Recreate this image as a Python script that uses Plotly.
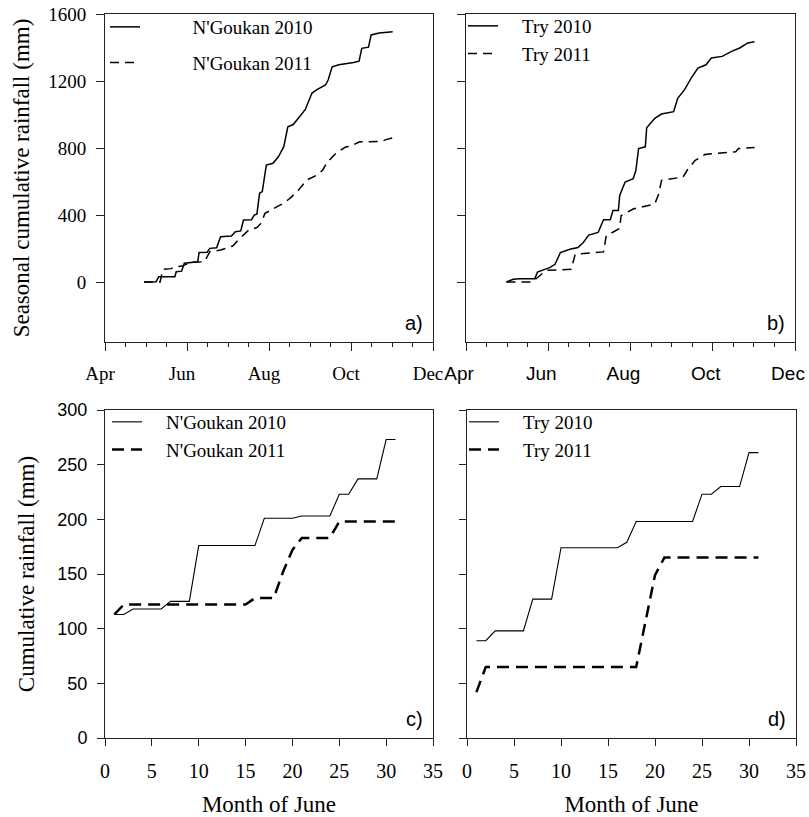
import plotly.graph_objects as go

# ---------------- DATA ----------------
# Seasonal cumulative rainfall (mm); dates as month-day (plotted on a common season axis)
ngoukan_2010_dates = ["04-30", "05-09", "05-11", "05-23", "05-24", "05-28", "05-30", "06-09", "06-10",
                      "06-16", "06-18", "06-23", "06-26", "07-04", "07-07", "07-11", "07-13", "07-19",
                      "07-21", "07-23", "07-25", "07-27", "07-30", "08-04", "08-08", "08-12", "08-15",
                      "08-19", "08-23", "08-28", "09-02", "09-06", "09-12", "09-14", "09-17", "09-22",
                      "10-03", "10-07", "10-09", "10-14", "10-16", "10-22", "11-01"]
ngoukan_2010_mm = [0, 2, 32, 32, 62, 65, 112, 121, 177,
                   178, 201, 205, 271, 275, 300, 305, 370, 372,
                   400, 405, 530, 540, 698, 709, 748, 808, 927,
                   940, 979, 1030, 1128, 1150, 1176, 1206, 1285, 1297,
                   1310, 1318, 1395, 1402, 1475, 1486, 1494]

ngoukan_2011_dates = ["04-30", "05-12", "05-14", "05-20", "05-24", "05-28", "06-05", "06-14", "06-18",
                      "06-26", "07-05", "07-09", "07-17", "07-23", "07-26", "07-29", "08-07", "08-12",
                      "08-18", "08-23", "08-29", "09-06", "09-10", "09-13", "09-20", "09-27", "10-01",
                      "10-07", "10-24", "10-27", "11-01"]
ngoukan_2011_mm = [0, 0, 75, 80, 92, 95, 118, 121, 181,
                   191, 215, 250, 311, 325, 350, 410, 450, 470,
                   510, 549, 609, 639, 669, 711, 770, 806, 812,
                   836, 840, 850, 860]

try_2010_dates = ["05-01", "05-06", "05-11", "05-22", "05-24", "05-29", "06-02", "06-06", "06-10",
                  "06-17", "06-23", "06-27", "07-01", "07-08", "07-12", "07-17", "07-19", "07-23",
                  "07-24", "07-28", "08-03", "08-05", "08-07", "08-12", "08-13", "08-19", "08-24",
                  "09-02", "09-05", "09-10", "09-15", "09-20", "09-26", "09-30", "10-08", "10-15",
                  "10-21", "10-27", "11-01"]
try_2010_mm = [0, 16, 20, 20, 60, 76, 86, 106, 176,
               196, 206, 236, 280, 296, 372, 372, 427, 427,
               517, 597, 617, 667, 797, 807, 921, 977, 1003,
               1017, 1097, 1147, 1217, 1277, 1297, 1337, 1347, 1377,
               1397, 1427, 1434]

try_2011_dates = ["05-01", "05-20", "05-30", "06-01", "06-18", "06-21", "07-12", "07-14", "07-24",
                  "07-25", "08-03", "08-19", "08-22", "08-24", "09-09", "09-12", "09-18", "09-23",
                  "09-25", "10-01", "10-18", "10-20", "11-01"]
try_2011_mm = [0, 0, 66, 70, 76, 166, 180, 276, 320,
               396, 436, 466, 527, 607, 627, 667, 727, 747,
               761, 767, 777, 797, 803]

# Daily cumulative rainfall during June (mm)
june_days = [1, 2, 3, 4, 5, 6, 7, 8, 9, 10, 11, 12, 13, 14, 15, 16,
             17, 18, 19, 20, 21, 22, 23, 24, 25, 26, 27, 28, 29, 30, 31]
ngoukan_june_2010 = [113, 113, 118, 118, 118, 118, 125, 125, 125, 176, 176, 176, 176, 176, 176, 176,
                     201, 201, 201, 201, 203, 203, 203, 203, 223, 223, 237, 237, 237, 273, 273]
ngoukan_june_2011 = [113, 122, 122, 122, 122, 122, 122, 122, 122, 122, 122, 122, 122, 122, 122, 128,
                     128, 128, 152, 172, 183, 183, 183, 183, 198, 198, 198, 198, 198, 198, 198]
try_june_2010 = [89, 89, 98, 98, 98, 98, 127, 127, 127, 174, 174, 174, 174, 174, 174, 174,
                 179, 198, 198, 198, 198, 198, 198, 198, 223, 223, 230, 230, 230, 261, 261]
try_june_2011 = [42, 65, 65, 65, 65, 65, 65, 65, 65, 65, 65, 65, 65, 65, 65, 65,
                 65, 65, 107, 149, 165, 165, 165, 165, 165, 165, 165, 165, 165, 165, 165]

season_ticks_year = "2010"
panel_labels = ["a)", "b)", "c)", "d)"]

# ---------------- STYLE ----------------
SERIF = "Liberation Serif, Times New Roman, serif"
SANS = "Liberation Sans, Arial, sans-serif"
AX = "#222222"
NB = "\u00a0"


def season(md):
    return [f"{season_ticks_year}-{d}" for d in md]


fig = go.Figure()

# Panel a
fig.add_trace(go.Scatter(x=season(ngoukan_2010_dates), y=ngoukan_2010_mm, mode="lines",
                         name=NB * 10 + "N'Goukan 2010", legend="legend", legendgroup="a1",
                         line=dict(color="black", width=1.5), xaxis="x", yaxis="y"))
fig.add_trace(go.Scatter(x=season(ngoukan_2011_dates), y=ngoukan_2011_mm, mode="lines",
                         name=NB * 10 + "N'Goukan 2011", legend="legend", legendgroup="a2",
                         line=dict(color="black", width=1.5, dash="9px,6px"), xaxis="x", yaxis="y"))
# Panel b
fig.add_trace(go.Scatter(x=season(try_2010_dates), y=try_2010_mm, mode="lines",
                         name=NB * 4 + "Try 2010", legend="legend2",
                         line=dict(color="black", width=1.5), xaxis="x2", yaxis="y2"))
fig.add_trace(go.Scatter(x=season(try_2011_dates), y=try_2011_mm, mode="lines",
                         name=NB * 4 + "Try 2011", legend="legend2",
                         line=dict(color="black", width=1.5, dash="9px,6px"), xaxis="x2", yaxis="y2"))
# Panel c
fig.add_trace(go.Scatter(x=june_days, y=ngoukan_june_2010, mode="lines",
                         name=NB * 4 + "N'Goukan 2010", legend="legend3",
                         line=dict(color="black", width=1.1), xaxis="x3", yaxis="y3"))
fig.add_trace(go.Scatter(x=june_days, y=ngoukan_june_2011, mode="lines",
                         name=NB * 4 + "N'Goukan 2011", legend="legend3",
                         line=dict(color="black", width=2.5, dash="12px,7px"), xaxis="x3", yaxis="y3"))
# Panel d
fig.add_trace(go.Scatter(x=june_days, y=try_june_2010, mode="lines",
                         name=NB * 4 + "Try 2010", legend="legend4",
                         line=dict(color="black", width=1.1), xaxis="x4", yaxis="y4"))
fig.add_trace(go.Scatter(x=june_days, y=try_june_2011, mode="lines",
                         name=NB * 4 + "Try 2011", legend="legend4",
                         line=dict(color="black", width=2.5, dash="12px,7px"), xaxis="x4", yaxis="y4"))

W, H = 809, 817


def px_x(p):
    return p / W


def px_y(p):
    return 1 - p / H


dom_top = [px_y(342), px_y(14)]
dom_bot = [px_y(738), px_y(410)]
dom_left = [px_x(105), px_x(433)]
dom_right_top = [px_x(466), px_x(795)]
dom_right_bot = [px_x(467), px_x(796)]

common = dict(showline=True, linecolor=AX, linewidth=1, mirror=True, ticks="outside",
              ticklen=8, tickwidth=1, tickcolor=AX, showgrid=False, zeroline=False,
              automargin=False, ticklabeloverflow="allow")

date_axis = dict(common, type="date", range=[f"{season_ticks_year}-04-01", f"{season_ticks_year}-12-01"],
                 dtick="M2", tick0=f"{season_ticks_year}-04-01", tickformat="%b",
                 minor=dict(ticks="outside", ticklen=4, tickcolor=AX, dtick=15.25 * 86400000,
                            tick0=f"{season_ticks_year}-04-01", showgrid=False),
                 ticklabelstandoff=6)

june_axis = dict(common, range=[0, 35], dtick=5, tick0=0, ticklen=7,
                 tickfont=dict(family=SERIF, size=20, color="black"), ticklabelstandoff=8)

fig.update_layout(
    width=W, height=H,
    margin=dict(l=0, r=0, t=0, b=0),
    paper_bgcolor="white", plot_bgcolor="white",
    font=dict(family=SERIF, color="black"),
    xaxis=dict(date_axis, domain=dom_left, anchor="y", ticklabelshift=-5,
               tickfont=dict(family=SERIF, size=19, color="black")),
    yaxis=dict(common, domain=dom_top, anchor="x", range=[-358, 1600], dtick=400, tick0=0,
               tickfont=dict(family=SERIF, size=19, color="black"), ticklabelstandoff=6,
               title=dict(text="Seasonal cumulative rainfall (mm)", font=dict(family=SERIF, size=23),
                          standoff=12)),
    xaxis2=dict(date_axis, domain=dom_right_top, anchor="y2", ticklabelshift=-7,
                tickfont=dict(family=SANS, size=19, color="black")),
    yaxis2=dict(common, domain=dom_top, anchor="x2", range=[-358, 1600], dtick=400, tick0=0,
                showticklabels=False),
    xaxis3=dict(june_axis, domain=dom_left, anchor="y3",
                title=dict(text="Month of June", font=dict(family=SERIF, size=23), standoff=18)),
    yaxis3=dict(common, domain=dom_bot, anchor="x3", range=[0, 300], dtick=50, tick0=0, ticklen=7,
                tickfont=dict(family=SANS, size=18, color="black"), ticklabelstandoff=6,
                title=dict(text="Cumulative rainfall (mm)", font=dict(family=SERIF, size=23),
                           standoff=16)),
    xaxis4=dict(june_axis, domain=dom_right_bot, anchor="y4",
                title=dict(text="Month of June", font=dict(family=SERIF, size=23), standoff=18)),
    yaxis4=dict(common, domain=dom_bot, anchor="x4", range=[0, 300], dtick=50, tick0=0, ticklen=7,
                showticklabels=False),
    legend=dict(x=px_x(105), y=px_y(8), xanchor="left", yanchor="top", bgcolor="rgba(0,0,0,0)",
                font=dict(family=SERIF, size=19), tracegroupgap=8, traceorder="grouped"),
    legend2=dict(x=px_x(463), y=px_y(7), xanchor="left", yanchor="top", bgcolor="rgba(0,0,0,0)",
                 font=dict(family=SERIF, size=19)),
    legend3=dict(x=px_x(107), y=px_y(403), xanchor="left", yanchor="top", bgcolor="rgba(0,0,0,0)",
                 font=dict(family=SERIF, size=19)),
    legend4=dict(x=px_x(464), y=px_y(403), xanchor="left", yanchor="top", bgcolor="rgba(0,0,0,0)",
                 font=dict(family=SERIF, size=19)),
)

for i, (xr, yr) in enumerate([("x", "y"), ("x2", "y2"), ("x3", "y3"), ("x4", "y4")]):
    fig.add_annotation(text=panel_labels[i], xref=f"{xr} domain", yref=f"{yr} domain",
                       x=0.975, y=0.018, xanchor="right", yanchor="bottom", showarrow=False,
                       font=dict(family=SANS, size=20, color="black"))

# The default page adds an 8 px body margin; remove it so the figure fills the window
fig.write_html("out.html", config={"displayModeBar": False},
               post_script="document.body.style.margin='0';")
